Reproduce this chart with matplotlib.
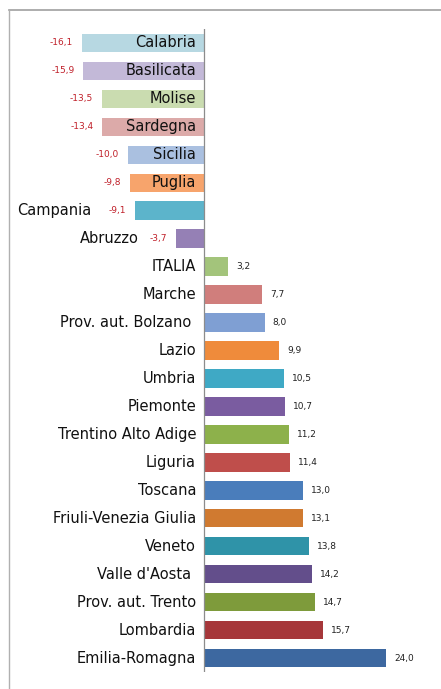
import matplotlib
matplotlib.use("Agg")
import matplotlib.pyplot as plt
from matplotlib.lines import Line2D

# ── DATI ────────────────────────────────────────────────────────────────────
regioni = ["Calabria", "Basilicata", "Molise", "Sardegna", "Sicilia", "Puglia",
           "Campania", "Abruzzo", "ITALIA", "Marche", "Prov. aut. Bolzano ",
           "Lazio", "Umbria", "Piemonte", "Trentino Alto Adige", "Liguria",
           "Toscana", "Friuli-Venezia Giulia", "Veneto", "Valle d'Aosta ",
           "Prov. aut. Trento", "Lombardia", "Emilia-Romagna"]
valori = [-16.1, -15.9, -13.5, -13.4, -10.0, -9.8, -9.1, -3.7, 3.2, 7.7, 8.0,
          9.9, 10.5, 10.7, 11.2, 11.4, 13.0, 13.1, 13.8, 14.2, 14.7, 15.7, 24.0]
colori = ["#b7d8e2", "#c3b9d8", "#cadcb0", "#dcaaa9", "#aac0e0", "#f7a46c",
          "#5cb4cb", "#9580b5", "#a3c47b", "#d07e7c", "#7f9fd3", "#ef8b3b",
          "#3fa9c5", "#7a5ca0", "#8db14b", "#bf4e4b", "#4a7dbb", "#d07a30",
          "#2f93a8", "#634e8b", "#7e9b3b", "#a6373a", "#3d68a0"]
# etichette a sinistra della barra (barre corte): scarto in pixel dall'inizio barra
fuori = {"Campania": -44, "Abruzzo": -37}

# ── FIGURA ──────────────────────────────────────────────────────────────────
W, H = 441, 689
fig = plt.figure(figsize=(W / 100, H / 100), dpi=100, facecolor="white")
x0_px, ppu = 204, 7.58
ax = fig.add_axes([9 / W, (H - 672) / H, (W - 9) / W, 643 / H])
ax.set_xlim((9 - x0_px) / ppu, (W - x0_px) / ppu)
ax.set_ylim(len(regioni) - 0.5, -0.5)
ax.axis("off")

pos = list(range(len(regioni)))
ax.barh(pos, valori, height=0.66, color=colori, zorder=2)
ax.axvline(0, ymin=0, ymax=1, color="#8c8c8c", lw=0.9, zorder=3)

for i, (nome, v) in enumerate(zip(regioni, valori)):
    lab = f"{v:.1f}".replace(".", ",")
    if v >= 0:
        ax.annotate(nome, (0, i), xytext=(-8, 0), textcoords="offset pixels",
                    ha="right", va="center", fontsize=10.5, color="#111111")
        ax.annotate(lab, (v, i), xytext=(8, 0), textcoords="offset pixels",
                    ha="left", va="center", fontsize=6.5, color="#222222")
    else:
        ax.annotate(lab, (v, i), xytext=(-9, 0), textcoords="offset pixels",
                    ha="right", va="center", fontsize=6.5, color="#c0202a")
        if nome in fuori:
            ax.annotate(nome, (v, i), xytext=(fuori[nome], 0),
                        textcoords="offset pixels", ha="right", va="center",
                        fontsize=10.5, color="#111111")
        else:
            ax.annotate(nome, (0, i), xytext=(-8, 0), textcoords="offset pixels",
                        ha="right", va="center", fontsize=10.5, color="#111111",
                        zorder=4)

# cornice grigia (bordo sinistro e superiore)
fy = 1 - 10 / H
fx = 9 / W
fig.add_artist(Line2D([fx, 1], [fy, fy], transform=fig.transFigure,
                      color="#a0a0a0", lw=1.2))
fig.add_artist(Line2D([fx, fx], [0, fy], transform=fig.transFigure,
                      color="#b0b0b0", lw=1.0))

plt.savefig("out.png", dpi=100, facecolor="white")
plt.close()
